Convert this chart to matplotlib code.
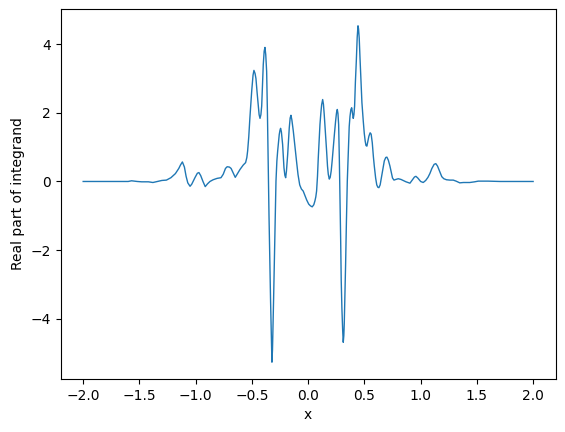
import numpy as np
import matplotlib
matplotlib.use('Agg')
import matplotlib.pyplot as plt

# values
x = [-2.00, -1.80, -1.60, -1.57, -1.52, -1.48, -1.42, -1.38, -1.34, -1.30,
     -1.26, -1.22, -1.18, -1.15, -1.135, -1.118, -1.100, -1.085, -1.070, -1.050,
     -1.035, -1.005, -0.985, -0.971, -0.955, -0.935, -0.915, -0.895, -0.873, -0.845,
     -0.81, -0.775, -0.755, -0.735, -0.720, -0.700, -0.685, -0.665, -0.648, -0.630,
     -0.606, -0.577, -0.556, -0.545, -0.538, -0.528, -0.518, -0.502, -0.490, -0.482,
     -0.472, -0.464, -0.454, -0.444, -0.436, -0.428, -0.420, -0.413, -0.405, -0.399,
     -0.391, -0.384, -0.377, -0.369, -0.362, -0.355, -0.348, -0.340, -0.334, -0.328,
     -0.322, -0.317, -0.313, -0.307, -0.301, -0.294, -0.286, -0.278, -0.271, -0.257,
     -0.250, -0.245, -0.238, -0.227, -0.215, -0.207, -0.200, -0.193, -0.182, -0.168,
     -0.160, -0.153, -0.145, -0.132, -0.117, -0.102, -0.090, -0.075, -0.060, -0.044,
     -0.030, -0.013, 0.005, 0.020, 0.036, 0.050, 0.060, 0.068, 0.075, 0.083,
     0.090, 0.098, 0.105, 0.113, 0.120, 0.129, 0.136, 0.143, 0.154, 0.164,
     0.172, 0.179, 0.188, 0.196, 0.205, 0.214, 0.223, 0.234, 0.244, 0.252,
     0.259, 0.265, 0.271, 0.277, 0.283, 0.289, 0.294, 0.300, 0.307, 0.312,
     0.317, 0.321, 0.327, 0.333, 0.340, 0.348, 0.357, 0.365, 0.372, 0.380,
     0.387, 0.394, 0.401, 0.407, 0.413, 0.420, 0.428, 0.436, 0.443, 0.448,
     0.454, 0.461, 0.469, 0.478, 0.490, 0.499, 0.507, 0.514, 0.522, 0.531,
     0.540, 0.551, 0.560, 0.570, 0.580, 0.588, 0.600, 0.610, 0.620, 0.629,
     0.640, 0.653, 0.665, 0.677, 0.690, 0.700, 0.713, 0.727, 0.740, 0.750,
     0.763, 0.780, 0.801, 0.825, 0.845, 0.870, 0.905, 0.925, 0.945, 0.958,
     0.975, 1.000, 1.023, 1.045, 1.065, 1.082, 1.100, 1.120, 1.135, 1.150,
     1.171, 1.188, 1.206, 1.230, 1.260, 1.290, 1.315, 1.348, 1.380, 1.437,
     1.480, 1.512, 1.600, 1.706, 1.800, 2.000]
y = [0.00, 0.00, 0.00, 0.02, 0.00, -0.01, -0.01, -0.03, 0.00, 0.03,
     0.04, 0.11, 0.23, 0.38, 0.48, 0.57, 0.42, 0.15, -0.04, -0.14,
     -0.08, 0.12, 0.24, 0.26, 0.17, 0.00, -0.15, -0.07, 0.00, 0.05,
     0.09, 0.11, 0.21, 0.38, 0.43, 0.42, 0.38, 0.24, 0.12, 0.22,
     0.35, 0.48, 0.55, 0.70, 0.89, 1.30, 1.85, 2.63, 3.10, 3.24,
     3.15, 3.00, 2.60, 2.24, 1.95, 1.84, 1.95, 2.20, 2.90, 3.41,
     3.80, 3.91, 3.70, 3.21, 2.00, 0.50, -1.00, -2.41, -3.50, -4.35,
     -5.27, -4.90, -4.35, -3.40, -2.41, -1.10, 0.01, 0.60, 0.89, 1.37,
     1.50, 1.55, 1.45, 1.08, 0.40, 0.18, 0.11, 0.30, 0.79, 1.56,
     1.85, 1.93, 1.80, 1.47, 1.00, 0.55, 0.20, -0.10, -0.22, -0.28,
     -0.40, -0.54, -0.66, -0.71, -0.74, -0.68, -0.57, -0.45, -0.28, 0.15,
     0.69, 1.20, 1.66, 2.00, 2.24, 2.39, 2.25, 1.95, 1.40, 0.89,
     0.45, 0.21, 0.07, 0.12, 0.31, 0.62, 0.98, 1.40, 1.76, 2.00,
     2.10, 1.98, 1.66, 0.70, -0.47, -1.70, -2.89, -3.70, -4.35, -4.69,
     -4.50, -4.15, -3.30, -2.41, -1.20, 0.01, 0.85, 1.60, 1.90, 2.10,
     2.15, 2.00, 1.84, 1.95, 2.20, 2.90, 3.50, 4.20, 4.54, 4.45,
     4.18, 3.60, 3.02, 2.30, 1.76, 1.40, 1.18, 1.05, 1.03, 1.18,
     1.32, 1.42, 1.38, 1.13, 0.72, 0.45, 0.10, -0.10, -0.17, -0.18,
     -0.10, 0.15, 0.40, 0.60, 0.70, 0.71, 0.62, 0.45, 0.25, 0.10,
     0.04, 0.06, 0.08, 0.06, 0.03, -0.01, -0.05, 0.04, 0.13, 0.15,
     0.10, 0.00, -0.03, 0.03, 0.12, 0.23, 0.38, 0.50, 0.52, 0.45,
     0.28, 0.14, 0.08, 0.05, 0.04, 0.04, 0.01, -0.04, -0.03, -0.03,
     -0.01, 0.01, 0.01, 0.00, 0.00, 0.00]

fig = plt.figure(figsize=(5.65, 4.32), dpi=100)
ax = fig.add_axes([0.1074, 0.1227, 0.876, 0.8565])
ax.plot(x, y, linewidth=1)
ax.set_xlabel('x')
ax.set_ylabel('Real part of integrand')

fig.savefig('out.png', dpi=100)
